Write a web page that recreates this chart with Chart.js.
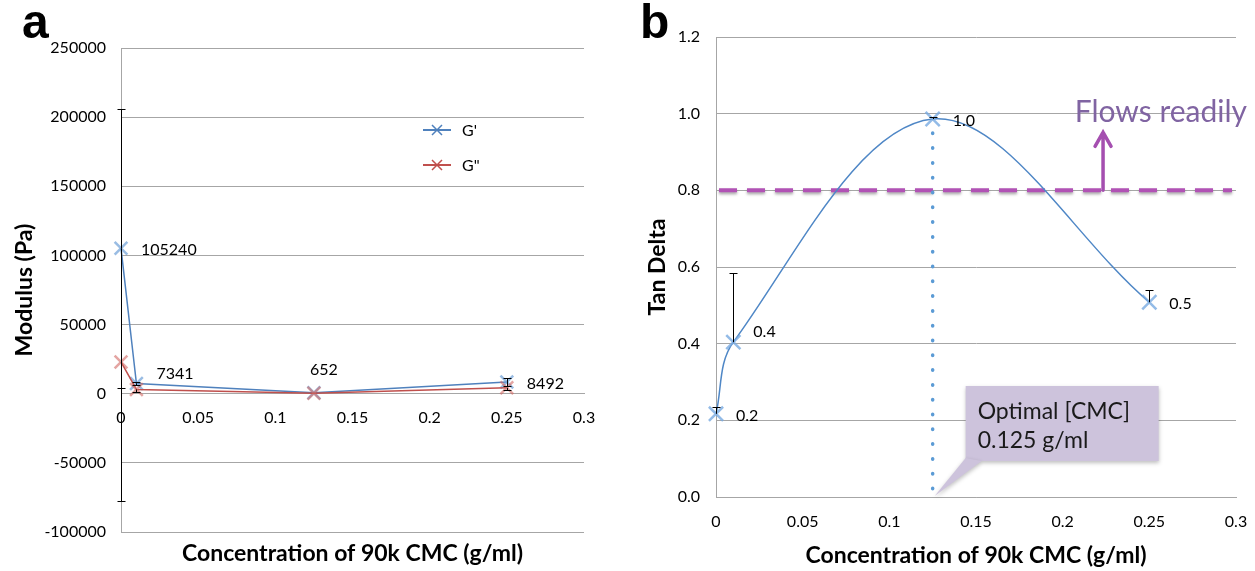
<!DOCTYPE html>
<html>
<head>
<meta charset="utf-8">
<script src="https://cdn.jsdelivr.net/npm/chart.js@4"></script>
<style>
  html, body { margin: 0; padding: 0; background: #fff; }
  body { width: 1255px; height: 571px; position: relative; overflow: hidden; }
  canvas { position: absolute; top: 0; }
  #chartA { left: 0; }
  #chartB { left: 625px; }
  .tag { position: absolute; top: -6px; line-height: 48px; font: bold 48px "Liberation Sans", Arial, sans-serif; }
</style>
</head>
<body>
<canvas id="chartA" width="620" height="571"></canvas>
<canvas id="chartB" width="630" height="571"></canvas>
<div class="tag" style="left:22px">a</div>
<div class="tag" style="left:640px">b</div>
<script>
// x values shared by both panels (g/ml)
const concentration = [0, 0.01, 0.125, 0.25];
const concTicks = [0, 0.05, 0.1, 0.15, 0.2, 0.25, 0.3];

// panel a - modulus (Pa)
const gPrime = [105240, 7341, 652, 8492];
const gDoublePrime = [23000, 3100, 300, 4300];
const gPrimeErr = [101000, 1000, 0, 3000];
const gDoublePrimeErr = [100800, 1500, 0, 1500];
const modulusTicks = [-100000, -50000, 0, 50000, 100000, 150000, 200000, 250000];
const gPrimeLabelPlace = ["right", "upright", "above", "right"];

// panel b - tan delta
const tanDelta = [0.217, 0.404, 0.986, 0.508];
const tanDeltaErrUp = [0.017, 0.18, 0.004, 0.033];
const tanTicks = [0, 0.2, 0.4, 0.6, 0.8, 1.0, 1.2];
const tanLabelPlace = ["right", "upright", "right", "right"];
const flowThreshold = 0.8;
const optimalConc = 0.125;

const FONT = 'Lato, "Open Sans", sans-serif';
const gridGray = "#a6a6a6";
const axisTitle = "Concentration of 90k CMC (g/ml)";

function points(ys) {
    return concentration.map((x, i) => ({ x: x, y: ys[i] }));
}

// black error bars, caps at the ends
const errorBars = {
    id: "errorBars",
    afterDatasetsDraw(chart) {
        const ctx = chart.ctx;
        const xs = chart.scales.x, ys = chart.scales.y;
        ctx.save();
        ctx.strokeStyle = "#000";
        ctx.lineWidth = 1;
        chart.data.datasets.forEach(ds => {
            const up = ds.errorUp || [], down = ds.errorDown || [];
            ds.data.forEach((p, i) => {
                const x = Math.round(xs.getPixelForValue(p.x)) + 0.5;
                const y0 = ys.getPixelForValue(p.y);
                [[up[i], 1], [down[i], -1]].forEach(([e, s]) => {
                    if (!e) return;
                    const ye = Math.round(ys.getPixelForValue(p.y + s * e)) + 0.5;
                    ctx.beginPath();
                    ctx.moveTo(x, y0);
                    ctx.lineTo(x, ye);
                    ctx.moveTo(x - 4, ye);
                    ctx.lineTo(x + 4, ye);
                    ctx.stroke();
                });
            });
        });
        ctx.restore();
    }
};

// value labels next to the points
const pointLabels = {
    id: "pointLabels",
    afterDatasetsDraw(chart) {
        const ctx = chart.ctx;
        ctx.save();
        ctx.font = "16px " + FONT;
        ctx.fillStyle = "#000";
        ctx.textBaseline = "middle";
        chart.data.datasets.forEach((ds, di) => {
            if (!ds.pointLabels) return;
            chart.getDatasetMeta(di).data.forEach((pt, i) => {
                let dx = 20, dy = 2, align = "left";
                if (ds.labelPlace[i] === "above") { dx = 10; dy = -23; align = "center"; }
                if (ds.labelPlace[i] === "upright") { dx = 20; dy = -10; }
                ctx.textAlign = align;
                ctx.fillText(ds.pointLabels[i], pt.x + dx, pt.y + dy);
            });
        });
        ctx.restore();
    }
};

// legend sitting inside the plot of panel a
const insideLegend = {
    id: "insideLegend",
    afterDraw(chart) {
        const { ctx, chartArea } = chart;
        const x0 = chartArea.left + 302;
        ctx.save();
        chart.data.datasets.forEach((ds, i) => {
            const y = chartArea.top + 82 + i * 35;
            ctx.strokeStyle = ds.borderColor;
            ctx.lineWidth = 2;
            ctx.beginPath();
            ctx.moveTo(x0, y);
            ctx.lineTo(x0 + 28, y);
            ctx.stroke();
            ctx.lineWidth = 1.5;
            ctx.beginPath();
            ctx.moveTo(x0 + 9, y - 5); ctx.lineTo(x0 + 19, y + 5);
            ctx.moveTo(x0 + 19, y - 5); ctx.lineTo(x0 + 9, y + 5);
            ctx.stroke();
            ctx.fillStyle = "#000";
            ctx.font = "16px " + FONT;
            ctx.textBaseline = "middle";
            ctx.fillText(ds.label, x0 + 39, y + 1);
        });
        ctx.restore();
    }
};

// threshold line, optimum marker, callout and note of panel b
const tanNotes = {
    id: "tanNotes",
    beforeDatasetsDraw(chart) {
        const { ctx, chartArea: a, scales: { x, y } } = chart;
        const yT = y.getPixelForValue(flowThreshold);
        ctx.save();
        ctx.shadowColor = "rgba(0,0,0,0.35)";
        ctx.shadowBlur = 3;
        ctx.shadowOffsetY = 2;
        ctx.strokeStyle = "#b152b5";
        ctx.lineWidth = 4;
        ctx.setLineDash([18, 10]);
        ctx.beginPath();
        ctx.moveTo(a.left + 3, yT);
        ctx.lineTo(a.right - 4, yT);
        ctx.stroke();
        ctx.restore();

        const xo = x.getPixelForValue(optimalConc);
        const peak = tanDelta[concentration.indexOf(optimalConc)];
        ctx.save();
        ctx.strokeStyle = "#5b9bd5";
        ctx.lineWidth = 3.5;
        ctx.lineCap = "round";
        ctx.setLineDash([0.5, 14.3]);
        ctx.beginPath();
        ctx.moveTo(xo, y.getPixelForValue(peak) + 14);
        ctx.lineTo(xo, y.getPixelForValue(0));
        ctx.stroke();
        ctx.restore();
    },
    afterDatasetsDraw(chart) {
        const { ctx, chartArea: a, scales: { x, y } } = chart;
        const yT = y.getPixelForValue(flowThreshold);

        // arrow up from the threshold
        const ax = x.getPixelForValue(0.2233);
        ctx.save();
        ctx.strokeStyle = "#a54fb0";
        ctx.lineWidth = 3.5;
        ctx.lineCap = "round";
        ctx.beginPath();
        ctx.moveTo(ax, yT);
        ctx.lineTo(ax, yT - 58);
        ctx.moveTo(ax - 8, yT - 44);
        ctx.lineTo(ax, yT - 58);
        ctx.lineTo(ax + 8, yT - 44);
        ctx.stroke();

        ctx.fillStyle = "#8064a2";
        ctx.font = "30px " + FONT;
        ctx.textAlign = "right";
        ctx.textBaseline = "alphabetic";
        ctx.fillText("Flows readily", a.right + 11, y.getPixelForValue(1.0) + 8);
        ctx.restore();

        // callout
        const xo = x.getPixelForValue(optimalConc);
        const tip = { x: xo + 2, y: y.getPixelForValue(0) - 1 };
        const bx = xo + 33, bw = 193, bh = 75, by = tip.y - 110;
        ctx.save();
        ctx.shadowColor = "rgba(0,0,0,0.25)";
        ctx.shadowBlur = 4;
        ctx.shadowOffsetY = 2;
        ctx.fillStyle = "#cdc3dc";
        ctx.fillRect(bx, by, bw, bh);
        ctx.beginPath();
        ctx.moveTo(bx, by + bh - 3);
        ctx.lineTo(bx + 16, by + bh);
        ctx.lineTo(tip.x, tip.y);
        ctx.closePath();
        ctx.fill();
        ctx.restore();

        ctx.save();
        ctx.fillStyle = "#1a1a1a";
        ctx.font = "23px " + FONT;
        ctx.textBaseline = "middle";
        ctx.fillText("Optimal [CMC]", bx + 12, by + 26);
        ctx.fillText(optimalConc + " g/ml", bx + 12, by + 55);
        ctx.restore();
    }
};

function tickSet(values) {
    return scale => { scale.ticks = values.map(v => ({ value: v })); };
}

const tickFont = { family: FONT, size: 16 };
const titleFont = { family: FONT, size: 23, weight: "bold" };

new Chart(document.getElementById("chartA"), {
    type: "line",
    data: {
        datasets: [
            {
                label: "G'",
                data: points(gPrime),
                errorUp: gPrimeErr,
                errorDown: gPrimeErr,
                pointLabels: gPrime.map(String),
                labelPlace: gPrimeLabelPlace,
                borderColor: "#4f81bd",
                borderWidth: 1.5,
                pointStyle: "crossRot",
                pointRadius: 9,
                pointBorderWidth: 2.5,
                pointBorderColor: "rgba(110,160,215,0.7)",
                tension: 0,
                clip: false,
                order: 2
            },
            {
                label: 'G"',
                data: points(gDoublePrime),
                errorDown: gDoublePrimeErr,
                borderColor: "#c0504d",
                borderWidth: 1.5,
                pointStyle: "crossRot",
                pointRadius: 9,
                pointBorderWidth: 2.5,
                pointBorderColor: "rgba(210,105,100,0.6)",
                tension: 0,
                clip: false,
                order: 1
            }
        ]
    },
    options: {
        responsive: false,
        animation: false,
        devicePixelRatio: 1,
        layout: { padding: { left: 10, right: 36, top: 48, bottom: 0 } },
        plugins: {
            legend: { display: false },
            tooltip: { enabled: false },
            title: {
                display: true,
                position: "bottom",
                fullSize: false,
                text: axisTitle,
                color: "#000",
                font: titleFont,
                padding: { top: 8, bottom: 3.4 }
            }
        },
        scales: {
            x: {
                type: "linear",
                position: { y: 0 },
                min: 0,
                max: 0.3,
                afterBuildTicks: tickSet(concTicks),
                afterFit: s => { s.height = 0; },
                grid: { display: false, drawTicks: false },
                border: { display: true, color: gridGray },
                ticks: {
                    color: "#000",
                    font: tickFont,
                    padding: 15,
                    maxRotation: 0,
                    callback: v => String(+v.toFixed(2))
                }
            },
            y: {
                min: -100000,
                max: 250000,
                afterBuildTicks: tickSet(modulusTicks),
                afterFit: s => { s.width = 111; },
                grid: { color: gridGray, drawTicks: false },
                border: { display: true, color: gridGray },
                ticks: {
                    color: "#000",
                    font: tickFont,
                    padding: 15,
                    callback: v => String(v)
                },
                title: {
                    display: true,
                    text: "Modulus (Pa)",
                    color: "#000",
                    font: titleFont,
                    padding: { top: 1, bottom: 0 }
                }
            }
        }
    },
    plugins: [errorBars, pointLabels, insideLegend]
});

new Chart(document.getElementById("chartB"), {
    type: "line",
    data: {
        datasets: [
            {
                label: "Tan Delta",
                data: points(tanDelta),
                errorUp: tanDeltaErrUp,
                pointLabels: tanDelta.map(v => v.toFixed(1)),
                labelPlace: tanLabelPlace,
                borderColor: "#4f87c6",
                borderWidth: 1.5,
                pointStyle: "crossRot",
                pointRadius: 10,
                pointBorderWidth: 2.5,
                pointBorderColor: "rgba(120,170,225,0.8)",
                tension: 0.35,
                clip: false
            }
        ]
    },
    options: {
        responsive: false,
        animation: false,
        devicePixelRatio: 1,
        layout: { padding: { left: 10, right: 19, top: 37, bottom: 0 } },
        plugins: {
            legend: { display: false },
            tooltip: { enabled: false }
        },
        scales: {
            x: {
                type: "linear",
                min: 0,
                max: 0.3,
                afterBuildTicks: tickSet(concTicks),
                afterFit: s => { s.height = 74; s.paddingLeft = 0; s.paddingRight = 0; },
                grid: { display: false, drawTicks: false },
                border: { display: true, color: gridGray },
                ticks: {
                    color: "#000",
                    font: tickFont,
                    padding: 15,
                    maxRotation: 0,
                    callback: v => String(+v.toFixed(2))
                },
                title: {
                    display: true,
                    text: axisTitle,
                    color: "#000",
                    font: titleFont,
                    padding: { top: 0, bottom: 2 }
                }
            },
            y: {
                min: 0,
                max: 1.2,
                afterBuildTicks: tickSet(tanTicks),
                afterFit: s => { s.width = 81; },
                grid: { color: gridGray, drawTicks: false },
                border: { display: true, color: gridGray },
                ticks: {
                    color: "#000",
                    font: tickFont,
                    padding: 16,
                    callback: v => v.toFixed(1)
                },
                title: {
                    display: true,
                    text: "Tan Delta",
                    color: "#000",
                    font: titleFont,
                    padding: { top: 9, bottom: 0 }
                }
            }
        }
    },
    plugins: [errorBars, pointLabels, tanNotes]
});
</script>
</body>
</html>
